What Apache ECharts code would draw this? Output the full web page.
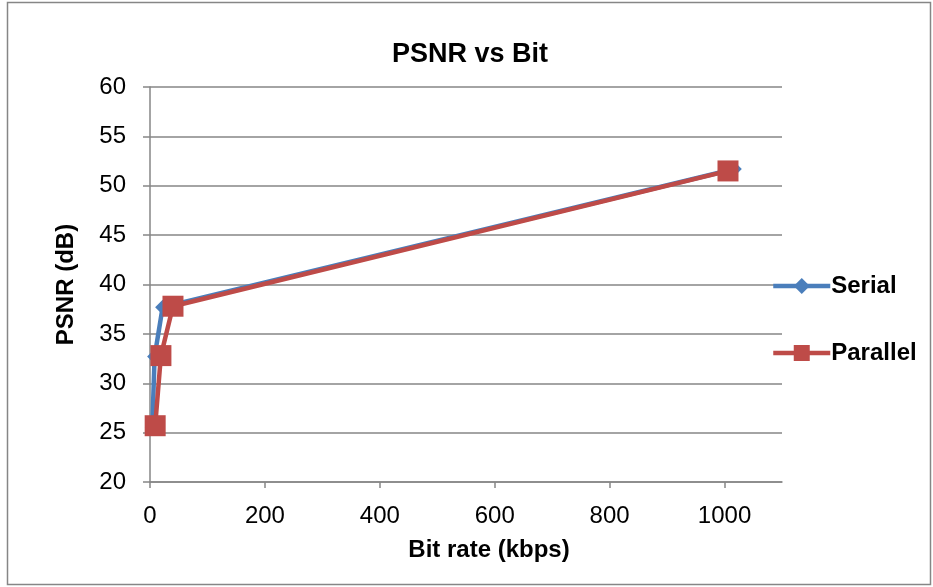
<!DOCTYPE html>
<html>
<head>
<meta charset="utf-8">
<style>
  html, body { margin: 0; padding: 0; background: #fff; }
  #chart { width: 933px; height: 587px; }
</style>
<script src="https://cdn.jsdelivr.net/npm/echarts@6/dist/echarts.min.js"></script>
</head>
<body>
<div id="chart"></div>
<script>
// Bit rate (kbps) vs PSNR (dB) for the two implementations
const serialBitrate = [4, 8, 22, 1017];
const serialPsnr = [25.5, 32.7, 37.7, 51.7];
const parallelBitrate = [9, 19, 40, 1006];
const parallelPsnr = [25.7, 32.8, 37.8, 51.5];
const xTicks = [0, 200, 400, 600, 800, 1000];
const yTicks = [20, 25, 30, 35, 40, 45, 50, 55, 60];

const pairs = (xs, ys) => xs.map((x, i) => [x, ys[i]]);

const baseFamily = "'Liberation Sans', Arial, sans-serif";
const tickFont = { fontFamily: baseFamily, fontSize: 24, color: '#000' };
const boldFont = { fontFamily: baseFamily, fontWeight: 'bold', color: '#000' };
const gray = '#868686';

const chart = echarts.init(document.getElementById('chart'), null, { renderer: 'canvas' });
chart.setOption({
  animation: false,
  backgroundColor: '#fff',
  graphic: [{
    type: 'rect',
    shape: { x: 7.5, y: 2.5, width: 923, height: 582 },
    style: { fill: 'none', stroke: gray, lineWidth: 1.5 },
    z: -1
  }],
  title: {
    text: 'PSNR vs Bit',
    left: 465, top: 36, textAlign: 'center',
    textStyle: Object.assign({}, boldFont, { fontSize: 27 })
  },
  legend: {
    orient: 'vertical',
    left: 766, top: 269,
    itemWidth: 57, itemHeight: 20,
    itemGap: 43,
    lineStyle: { width: 4.5 },
    textStyle: Object.assign({}, boldFont, { fontSize: 24, lineHeight: 24, padding: [0, 0, 0, -4] }),
    data: ['Serial', 'Parallel']
  },
  grid: { left: 150, right: 151, top: 87, bottom: 105, containLabel: false },
  xAxis: {
    type: 'value', min: 0, max: 1100, interval: 100,
    name: 'Bit rate (kbps)', nameLocation: 'middle', nameGap: 56,
    nameTextStyle: Object.assign({}, boldFont, { fontSize: 24, padding: [0, 0, 0, 46] }),
    axisLine: { show: true, onZero: false, lineStyle: { color: gray, width: 1.5 } },
    axisTick: { show: true, length: 6, lineStyle: { color: gray, width: 1.5 }, customValues: xTicks },
    axisLabel: Object.assign({ margin: 22, customValues: xTicks, formatter: v => String(v) }, tickFont),
    splitLine: { show: false }
  },
  yAxis: {
    type: 'value', min: 20, max: 60, interval: 5,
    name: 'PSNR (dB)', nameLocation: 'middle', nameGap: 72, nameRotate: 90,
    nameTextStyle: Object.assign({}, boldFont, { fontSize: 24 }),
    axisLine: { show: true, lineStyle: { color: gray, width: 1.5 } },
    axisTick: { show: true, length: 7, lineStyle: { color: gray, width: 1.5 }, customValues: yTicks },
    axisLabel: Object.assign({ margin: 24, customValues: yTicks }, tickFont),
    splitLine: { show: true, lineStyle: { color: gray, width: 1.5 } }
  },
  series: [
    {
      name: 'Serial', type: 'line',
      data: pairs(serialBitrate, serialPsnr),
      symbol: 'diamond', symbolSize: 15,
      lineStyle: { color: '#4a7ebb', width: 4.5 },
      itemStyle: { color: '#4a7ebb' },
      z: 2
    },
    {
      name: 'Parallel', type: 'line',
      data: pairs(parallelBitrate, parallelPsnr),
      symbol: 'rect', symbolSize: 21,
      lineStyle: { color: '#be4b48', width: 4.5 },
      itemStyle: { color: '#be4b48' },
      z: 3
    }
  ]
});
</script>
</body>
</html>
